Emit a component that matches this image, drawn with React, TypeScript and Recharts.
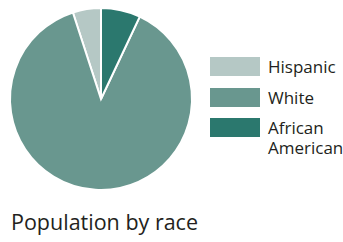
import { PieChart, Pie, Cell } from 'recharts'

const races = ['Hispanic', 'White', 'African American']
const shares = [5, 88, 7]
const COLORS = ['#b5c8c5', '#69978f', '#2b786e']

const data = races.map((name, i) => ({ name, value: shares[i] }))

const FONT = '"Open Sans", sans-serif'
const ROW_TOP = [57, 88, 118]

// drop the default body margin so the chart sits at the page origin
document.body.style.margin = '0'

function RaceLegend() {
  return (
    <>
      {races.map((r, i) => (
        <div
          key={r}
          style={{ position: 'absolute', left: 210, top: ROW_TOP[i], display: 'flex', alignItems: 'flex-start' }}
        >
          <div style={{ width: 50, height: 19, background: COLORS[i], marginRight: 8, flexShrink: 0 }} />
          <div style={{ fontFamily: FONT, fontSize: 17, lineHeight: '20px', color: '#231f20', width: 78 }}>{r}</div>
        </div>
      ))}
    </>
  )
}

export default function App() {
  return (
    <div style={{ position: 'relative', width: 343, height: 242, background: '#fff', overflow: 'hidden' }}>
      <PieChart width={343} height={242} margin={{ top: 0, right: 0, bottom: 0, left: 0 }}>
        <Pie
          data={data}
          dataKey="value"
          cx={101}
          cy={99}
          outerRadius={91}
          startAngle={90}
          endAngle={450}
          stroke="#fff"
          strokeWidth={2}
          isAnimationActive={false}
        >
          {data.map((d, i) => (
            <Cell key={d.name} fill={COLORS[i]} />
          ))}
        </Pie>
      </PieChart>
      <RaceLegend />
      <div
        style={{
          position: 'absolute',
          left: 11,
          top: 207,
          fontFamily: FONT,
          fontSize: 21.5,
          lineHeight: 'normal',
          color: '#231f20',
          whiteSpace: 'nowrap',
        }}
      >
        Population by race
      </div>
    </div>
  )
}
